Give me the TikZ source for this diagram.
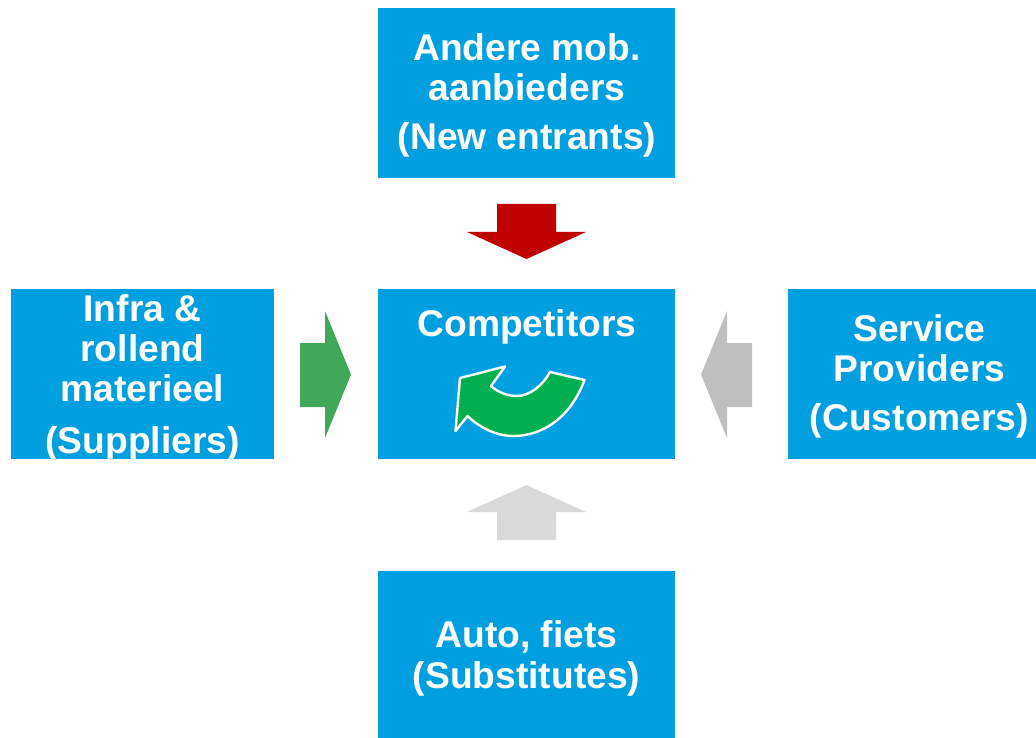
\documentclass[tikz,border=0pt]{standalone}
\usepackage{fontspec}
\setmainfont{Liberation Sans}
\definecolor{boxblue}{HTML}{00A0E0}
\definecolor{arrred}{HTML}{C00000}
\definecolor{arrgreen}{HTML}{41A85A}
\definecolor{arrgrey}{HTML}{BFBFBF}
\definecolor{arrlight}{HTML}{D9D9D9}
\definecolor{cycgreen}{HTML}{00B050}
\tikzset{
  boxnode/.style={fill=boxblue,draw=none,inner sep=0pt,anchor=north west},
  lbl/.style={text=white,font=\fontsize{27.9pt}{30pt}\selectfont\bfseries,align=center,inner sep=0pt,anchor=base}
}
\begin{document}
\begin{tikzpicture}[x=0.75pt,y=-0.75pt]
\useasboundingbox (0,0) rectangle (1036,738);
% boxes
\node[boxnode,minimum width=222.75pt,minimum height=127.5pt] (top) at (378,8) {};
\node[boxnode,minimum width=197.25pt,minimum height=127.5pt] (left) at (11,289) {};
\node[boxnode,minimum width=222.75pt,minimum height=127.5pt] (mid) at (378,289) {};
\node[boxnode,minimum width=186pt,minimum height=127.5pt] (right) at (788,289) {};
\node[boxnode,minimum width=222.75pt,minimum height=125.25pt] (bot) at (378,571) {};
% labels
\node[lbl] (t1) at (527,61) {Andere mob.};
\node[lbl] (t2) at (527,101) {aanbieders};
\node[lbl] (t3) at (527,150) {(New entrants)};
\node[lbl] (l1) at (142.5,321.5) {Infra \&};
\node[lbl] (l2) at (142.5,361) {rollend};
\node[lbl] (l3) at (142.5,401) {materieel};
\node[lbl] (l4) at (142.5,453) {(Suppliers)};
\node[lbl] (m1) at (527,336) {Competitors};
\node[lbl] (r1) at (919.5,341) {Service};
\node[lbl] (r2) at (919.5,381) {Providers};
\node[lbl] (r3) at (919.5,430) {(Customers)};
\node[lbl] (b1) at (526.5,647) {Auto, fiets};
\node[lbl] (b2) at (526.5,688) {(Substitutes)};
% block arrows
\fill[arrred] (497,204) -- (556,204) -- (556,232) -- (586,232) -- (526.5,259) -- (467,232) -- (497,232) -- cycle;
\fill[arrgreen] (300,343) -- (325,343) -- (325,311) -- (351,374.5) -- (325,438) -- (325,407) -- (300,407) -- cycle;
\fill[arrgrey] (752,343) -- (727,343) -- (727,311) -- (701,374.5) -- (727,438) -- (727,407) -- (752,407) -- cycle;
\fill[arrlight] (497,540) -- (556,540) -- (556,512) -- (586,512) -- (526.5,485) -- (467,512) -- (497,512) -- cycle;
% curved arrow
\draw[fill=cycgreen,draw=white,line width=1.8pt,line join=round]
  (455.5,431) -- (460,378) -- (505,366.5) -- (491,386)
  .. controls (499,393) and (508,396) .. (517,396)
  .. controls (530,396) and (543,385) .. (550,372)
  -- (584.5,380)
  .. controls (572,414) and (546,436) .. (513,436)
  .. controls (497,436) and (480,428) .. (467.5,416) -- cycle;
\end{tikzpicture}
\end{document}
